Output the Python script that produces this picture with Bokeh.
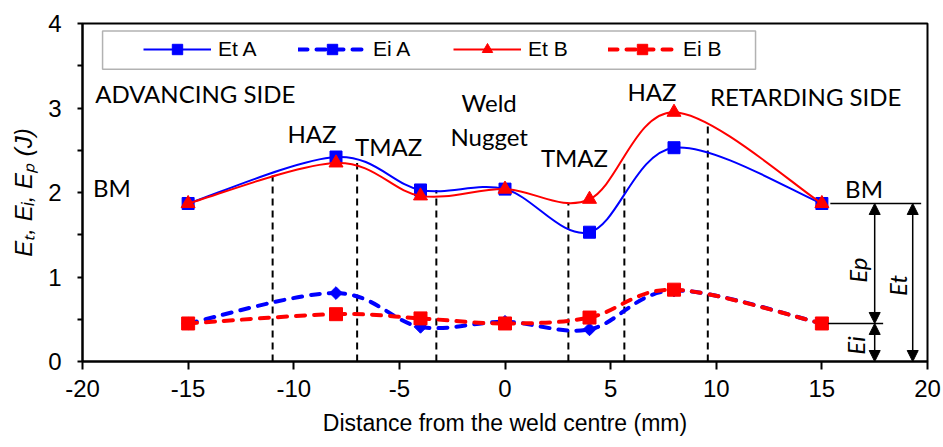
import numpy as np
from bokeh.plotting import figure
from bokeh.models import (Range1d, FixedTicker, Legend, LegendItem, BoxAnnotation,
                          Arrow, NormalHead)
from bokeh.core.properties import value
from bokeh.embed import file_html
from bokeh.resources import INLINE

# ---------------- data ----------------
distance = [-15, -8, -4, 0, 4, 8, 15]
et_a = [1.87, 2.42, 2.03, 2.04, 1.53, 2.53, 1.87]
ei_a = [0.45, 0.81, 0.41, 0.47, 0.38, 0.84, 0.45]
et_b = [1.87, 2.35, 1.96, 2.04, 1.92, 2.95, 1.87]
ei_b = [0.45, 0.56, 0.51, 0.45, 0.52, 0.85, 0.45]

x_ticks = [-20, -15, -10, -5, 0, 5, 10, 15, 20]
x_tick_labels = ["-20", "-15", "-10", "-5", "0", "5", "10", "15", "20"]
y_ticks = [0, 1, 2, 3, 4]
y_minor = [0.5, 1.5, 2.5, 3.5]

# zone boundaries (dashed verticals) and their top ends
zone_x = [-11, -7, -3.25, 3, 5.65, 9.6]
zone_top = [2.2, 2.35, 2.03, 1.87, 2.34, 2.83]

# zone labels
left_labels = ["ADVANCING SIDE", "BM", "HAZ", "TMAZ", "TMAZ", "HAZ", "RETARDING SIDE", "BM"]
left_lx = [-19.4, -19.5, -10.3, -7.1, 1.7, 5.8, 9.7, 16.1]
left_ly = [3.17, 2.06, 2.70, 2.54, 2.42, 3.20, 3.14, 2.05]
center_labels = ["Weld", "Nugget"]
center_lx = [-0.75, -0.75]
center_ly = [3.06, 2.66]

# ---------------- helpers ----------------
def smooth(xs, ys):
    P = np.column_stack([xs, ys]).astype(float)
    n = len(P)
    out = {k: [] for k in ["x0", "y0", "x1", "y1", "cx0", "cy0", "cx1", "cy1"]}
    for i in range(n - 1):
        p0 = P[i - 1] if i > 0 else P[i]
        p1 = P[i]
        p2 = P[i + 1]
        p3 = P[i + 2] if i + 2 < n else P[i + 1]
        c1 = p1 + (p2 - p0) / 6.0
        c2 = p2 - (p3 - p1) / 6.0
        out["x0"].append(p1[0]); out["y0"].append(p1[1])
        out["x1"].append(p2[0]); out["y1"].append(p2[1])
        out["cx0"].append(c1[0]); out["cy0"].append(c1[1])
        out["cx1"].append(c2[0]); out["cy1"].append(c2[1])
    return out

BLUE = "#0000FF"
RED = "#FF0000"

p = figure(width=943, height=447, x_range=Range1d(-20, 20), y_range=Range1d(0, 4),
           output_backend="svg", toolbar_location=None,
           min_border_left=82, min_border_right=16, min_border_top=23, min_border_bottom=86)

p.xgrid.visible = False
p.ygrid.visible = False
p.outline_line_color = "black"
p.outline_line_width = 2
p.background_fill_color = "white"
p.border_fill_color = "white"

# axes
p.xaxis.ticker = FixedTicker(ticks=x_ticks, minor_ticks=[])
p.xaxis.major_label_overrides = {t: s for t, s in zip(x_ticks, x_tick_labels)}
p.yaxis.ticker = FixedTicker(ticks=y_ticks, minor_ticks=y_minor)
for ax in (p.xaxis[0], p.yaxis[0]):
    ax.axis_line_color = "black"
    ax.axis_line_width = 2
    ax.major_tick_line_color = "black"
    ax.major_tick_line_width = 2
    ax.minor_tick_line_color = "black"
    ax.minor_tick_line_width = 2
    ax.major_label_text_font = "Liberation Sans"
    ax.major_label_text_font_size = "24px"
    ax.major_label_text_color = "black"
    ax.axis_label_text_font = "Liberation Sans"
    ax.axis_label_text_font_size = "23px"
    ax.axis_label_text_color = "black"
p.xaxis.major_tick_in = 0
p.xaxis.major_tick_out = 8
p.xaxis.major_label_standoff = 10
p.xaxis.axis_label = "Distance from the weld centre (mm)"
p.xaxis.axis_label_text_font_style = "normal"
p.xaxis.axis_label_standoff = 10
p.yaxis.major_tick_in = 0
p.yaxis.major_tick_out = 5
p.yaxis.minor_tick_in = 0
p.yaxis.minor_tick_out = 5
p.yaxis.major_label_standoff = 16
p.yaxis.axis_label = "E\u209C, E\u1D62, E\u209A (J)"
p.yaxis.axis_label_text_font_style = "italic"
p.yaxis.axis_label_text_font_size = "24px"
p.yaxis.axis_label_standoff = 8

# zone boundaries
p.segment(x0=zone_x, x1=zone_x, y0=[0] * len(zone_x), y1=zone_top,
          line_color="black", line_width=2, line_dash="7 5")

# series
series = [
    ("Et A", et_a, BLUE, None, 2, "square", 12, 0),
    ("Ei A", ei_a, BLUE, "9 9", 4, "square", 9, np.pi / 4),
    ("Et B", et_b, RED, None, 2, "triangle", 14, 0),
    ("Ei B", ei_b, RED, "9 9", 4, "square", 13, 0),
]
items = []
for name, ys, col, dash, lw, mk, sz, ang in series:
    seg = smooth(distance, ys)
    kw = dict(line_color=col, line_width=lw)
    if dash:
        kw["line_dash"] = dash
        kw["line_cap"] = "round"
    r1 = p.bezier(**seg, **kw)
    r2 = p.scatter(distance, ys, marker=mk, size=sz, angle=ang,
                   fill_color=col, line_color=col)
    items.append(LegendItem(label=name, renderers=[r1, r2]))

# text labels
p.text(x=left_lx, y=left_ly, text=left_labels, text_font=value("Lato"),
       text_font_size="24px", text_align="left", text_baseline="middle", text_color="black")
p.text(x=center_lx, y=center_ly, text=center_labels, text_font=value("Lato"),
       text_font_size="24px", text_align="center", text_baseline="middle", text_color="black")

# energy annotation on the right
p.segment(x0=[15.4, 15.3], x1=[19.7, 17.9], y0=[et_a[-1], ei_b[-1]], y1=[et_a[-1], ei_b[-1]],
          line_color="black", line_width=1.5)


def head():
    return NormalHead(size=11, fill_color="black", line_color="black")


for xs, y0, y1 in [(17.5, et_a[-1], ei_b[-1]), (17.5, ei_b[-1], 0.0), (19.3, et_a[-1], 0.0)]:
    p.add_layout(Arrow(x_start=xs, y_start=y0, x_end=xs, y_end=y1, start=head(), end=head(),
                       line_color="black", line_width=1.5))

p.text(x=[16.67, 18.6, 16.6], y=[1.08, 0.9, 0.19], text=["Ep", "Et", "Ei"],
       angle=np.pi / 2, text_font=value("Lato"), text_font_style="italic",
       text_font_size="24px", text_align="center", text_baseline="middle", text_color="black")

# legend box + legend
p.add_layout(BoxAnnotation(left=-19.05, right=11.86, bottom=3.46, top=3.91,
                           fill_color="white", fill_alpha=1.0,
                           line_color="black", line_width=1.5))
legend = Legend(items=items, orientation="horizontal", location=(61, 299),
                padding=0, margin=0, spacing=35, glyph_width=68, glyph_height=26,
                label_width=45, label_height=26, label_standoff=7,
                label_text_font="Liberation Sans", label_text_font_size="21px",
                label_text_color="black", label_text_baseline="middle",
                border_line_alpha=0, background_fill_alpha=0)
p.add_layout(legend)

open("out.html", "w").write(file_html(p, INLINE))
